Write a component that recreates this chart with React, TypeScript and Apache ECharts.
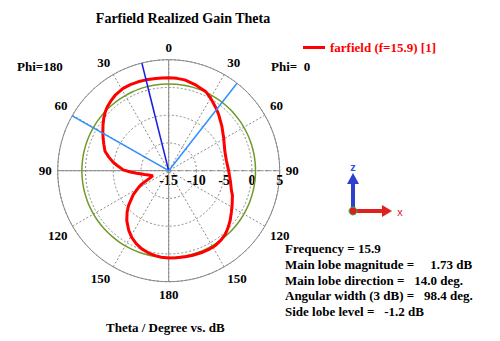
import React, { useEffect, useRef } from "react";
import * as echarts from "echarts";

// Farfield pattern: theta measured clockwise from top (0..180 = Phi 0 side, 180..360 = Phi 180 side)
const thetaDeg = [
  0, 5, 10, 17, 20, 25, 30, 37, 42, 50, 59, 65, 71, 80, 90, 100, 108, 111, 118, 124,
  129, 134, 138, 143, 148, 153, 158, 164, 169, 175, 180, 185, 189, 194, 199, 204, 209,
  214, 220, 225, 229, 236, 241, 244, 248, 252.5, 258, 261, 265.4, 268, 271, 276, 279,
  283, 287, 292, 296, 300, 305, 309, 313, 316, 320, 325, 331, 336, 341, 346, 352, 356, 360,
];
const gainDb = [
  1.74, 1.7, 1.62, 1.22, 1.0, 0.75, 0.1, -0.85, -1.5, -2.5, -3.45, -3.95, -4.3, -4.45, -4.2,
  -3.7, -3.1, -2.7, -2.05, -1.4, -0.75, -0.15, 0.3, 0.65, 0.88, 0.92, 0.9, 0.84, 0.78, 0.75,
  0.73, 0.65, 0.5, 0.25, -0.1, -0.6, -1.25, -2.1, -3.25, -4.4, -5.4, -7.3, -8.8, -9.7, -11.2,
  -12.0, -11.3, -10.6, -9.2, -8.1, -6.8, -5.6, -4.8, -3.9, -3.0, -2.4, -1.86, -1.3, -0.55,
  0.05, 0.6, 0.95, 1.3, 1.7, 1.95, 1.98, 1.94, 1.87, 1.78, 1.75, 1.74,
];

const radiusMin = -15;
const radiusMax = 5;
const radiusStep = 5;
const angleStep = 30;
const refLevelDb = 0.64; // green reference circle
const mainLobeAngle = 346; // 14.0 deg on Phi=180 side
const beamEdgeAngles = [38.0, 299.6];

const seriesName = "farfield (f=15.9) [1]";
const titleText = "Farfield Realized Gain Theta";
const xAxisTitle = "Theta / Degree vs. dB";
const infoLabels = [
  "Frequency = 15.9",
  "Main lobe magnitude =\u00a0\u00a0\u00a0\u00a0 1.73 dB",
  "Main lobe direction =\u00a0\u00a0 14.0 deg.",
  "Angular width (3 dB) =\u00a0\u00a0 98.4 deg.",
  "Side lobe level =\u00a0\u00a0 -1.2 dB",
];

export default function App() {
  const ref = useRef<HTMLDivElement>(null);
  useEffect(() => {
    const chart = echarts.init(ref.current!, null, { renderer: "svg" });
    const serif = "'Liberation Serif', 'Times New Roman', serif";
    const center = [168.7, 170.7];
    const radius = 111;
    const gray = "#8a8a8a";

    const circleAngles: number[] = [];
    for (let a = 0; a <= 360; a += 5) circleAngles.push(a);

    const radialLine = (ang: number) => [
      [radiusMin, ang],
      [radiusMax, ang],
    ];

    const lineSeries = (name: string, data: any, color: string, width: number, type: any = "solid", z = 2, smooth = false) => ({
      name,
      type: "line",
      coordinateSystem: "polar",
      polarIndex: 0,
      data,
      symbol: "none",
      smooth,
      silent: true,
      z,
      lineStyle: { color, width, type },
    });

    const infoGraphics = infoLabels.map((t, i) => ({
      type: "text",
      left: 285,
      top: 242 + i * 15.8,
      style: { text: t, font: `bold 13px ${serif}`, fill: "#000" },
    }));

    const option: any = {
      animation: false,
      backgroundColor: "#fff",
      title: {
        text: titleText,
        left: 178,
        top: 6,
        textAlign: "center",
        textStyle: { fontFamily: serif, fontWeight: "bold", fontSize: 14, color: "#000" },
      },
      legend: {
        data: [seriesName],
        left: 298,
        top: 36,
        itemWidth: 22,
        itemHeight: 3,
        icon: "rect",
        itemGap: 5,
        textStyle: { fontFamily: serif, fontWeight: "bold", fontSize: 13, color: "#ff0000" },
      },
      polar: [
        { center, radius },
        { center, radius },
      ],
      angleAxis: [
        {
          polarIndex: 0,
          type: "value",
          min: 0,
          max: 360,
          interval: angleStep,
          startAngle: 90,
          clockwise: true,
          axisLine: { lineStyle: { color: gray, width: 1 } },
          axisTick: { show: false },
          axisLabel: {
            margin: 6,
            color: "#000",
            fontFamily: serif,
            fontWeight: "bold",
            fontSize: 13,
            formatter: (v: number) => (v >= 360 ? "" : String(v <= 180 ? v : 360 - v)),
          },
          splitLine: { show: true, lineStyle: { color: gray, width: 1, type: [2, 2] } },
        },
        {
          polarIndex: 1,
          type: "value",
          min: 0,
          max: 360,
          startAngle: 0,
          clockwise: false,
          axisLine: { show: false },
          axisTick: { show: false },
          axisLabel: { show: false },
          splitLine: { show: false },
        },
      ],
      radiusAxis: [
        {
          polarIndex: 0,
          type: "value",
          min: radiusMin,
          max: radiusMax,
          interval: radiusStep,
          axisLine: { show: false },
          axisTick: { show: false },
          axisLabel: { show: false },
          splitLine: { show: true, lineStyle: { color: gray, width: 1, type: [2, 2] } },
        },
        {
          polarIndex: 1,
          type: "value",
          min: radiusMin,
          max: radiusMax,
          interval: radiusStep,
          axisLine: { show: false },
          axisTick: { show: false },
          splitLine: { show: false },
          axisLabel: { fontFamily: serif, fontWeight: "bold", fontSize: 14, color: "#000", margin: -17 },
        },
      ],
      series: [
        lineSeries("vaxis", [[radiusMax, 0], [radiusMin, 0], [radiusMax, 180]], gray, 1),
        lineSeries("haxisL", radialLine(270), gray, 1),
        lineSeries("haxisR", radialLine(90), gray, 1, [5, 3]),
        lineSeries("ref", circleAngles.map((a) => [refLevelDb, a]), "#6f9a2a", 1.5, "solid", 3, true),
        {
          ...lineSeries(seriesName, thetaDeg.map((t, i) => [gainDb[i], t]), "#ff0000", 3, "solid", 4),
          itemStyle: { color: "#ff0000" },
        },
        lineSeries("main", radialLine(mainLobeAngle), "#1a1ae6", 1.5, "solid", 5),
        lineSeries("edge1", radialLine(beamEdgeAngles[0]), "#2f8fff", 1.5, "solid", 5),
        lineSeries("edge2", radialLine(beamEdgeAngles[1]), "#2f8fff", 1.5, "solid", 5),
      ],
      graphic: [
        { type: "text", left: 17, top: 60, style: { text: "Phi=180", font: `bold 13px ${serif}`, fill: "#000" } },
        { type: "text", left: 271, top: 60, style: { text: "Phi=\u00a0 0", font: `bold 13px ${serif}`, fill: "#000" } },
        {
          type: "text",
          left: 106,
          top: 321,
          style: { text: xAxisTitle, font: `bold 13px ${serif}`, fill: "#000" },
        },
        ...infoGraphics,
        // coordinate triad
        { type: "rect", shape: { x: 351, y: 182, width: 4, height: 29 }, style: { fill: "#2f3fd0" } },
        { type: "polygon", shape: { points: [[347, 184], [359, 184], [353, 173]] }, style: { fill: "#2f3fd0" } },
        { type: "text", x: 353, y: 167, style: { text: "z", font: "bold 11px sans-serif", fill: "#3050e0", align: "center", verticalAlign: "middle" } },
        { type: "rect", shape: { x: 353, y: 209, width: 30, height: 4 }, style: { fill: "#e02020" } },
        { type: "polygon", shape: { points: [[382, 205], [382, 217], [392, 211]] }, style: { fill: "#e02020" } },
        { type: "text", x: 400, y: 212, style: { text: "x", font: "11px sans-serif", fill: "#e02020", align: "center", verticalAlign: "middle" } },
        { type: "circle", shape: { cx: 353, cy: 211, r: 4 }, style: { fill: "#d82020", stroke: "#40b040", lineWidth: 1 } },
      ],
    };
    chart.setOption(option);
    return () => chart.dispose();
  }, []);
  return (
    <div
      ref={ref}
      style={{ position: "fixed", left: 0, top: 0, width: 500, height: 341, background: "#fff" }}
    />
  );
}
